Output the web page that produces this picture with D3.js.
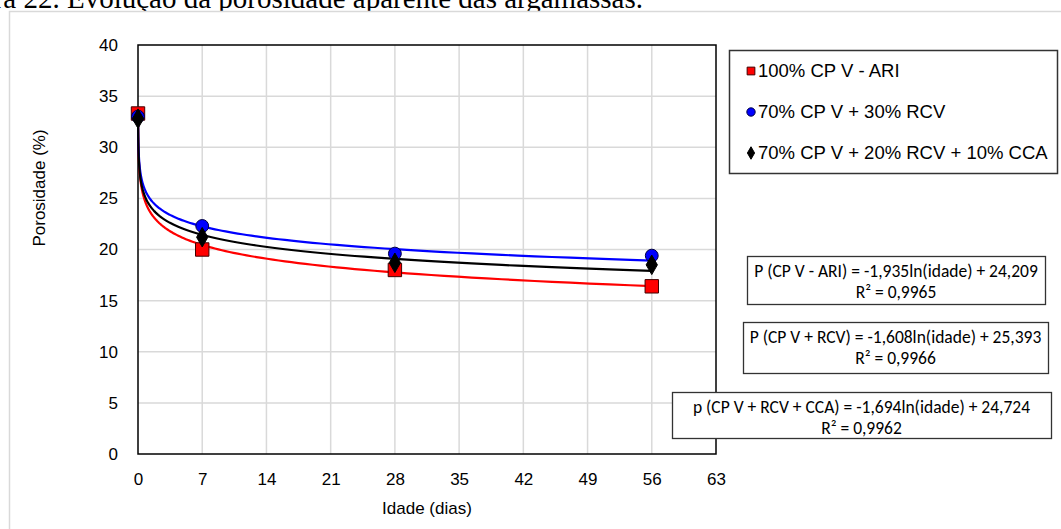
<!DOCTYPE html>
<html>
<head>
<meta charset="utf-8">
<script src="https://cdn.jsdelivr.net/npm/d3@7"></script>
<style>
  body { margin: 0; background: #fff; overflow: hidden; }
  svg { display: block; }
</style>
</head>
<body>
<div id="chart"></div>
<script>
// Data
const ages = [0, 7, 28, 56];
const seriesNames = ["100% CP V - ARI", "70% CP V + 30% RCV", "70% CP V + 20% RCV + 10% CCA"];
const porosityARI = [33.3, 20.0, 18.0, 16.4];
const porosityRCV = [33.0, 22.3, 19.6, 19.4];
const porosityCCA = [32.8, 21.2, 18.7, 18.5];
// logarithmic trendlines shown in the chart: P = a*ln(idade) + b
const trendSlopes = [-1.935, -1.608, -1.694];
const trendIntercepts = [24.209, 25.393, 24.724];
const equationLabels = [
    "P (CP V - ARI) = -1,935ln(idade) + 24,209",
    "P (CP V + RCV) = -1,608ln(idade) + 25,393",
    "p (CP V + RCV + CCA) = -1,694ln(idade) + 24,724"
];
const r2Labels = ["R\u00b2 = 0,9965", "R\u00b2 = 0,9966", "R\u00b2 = 0,9962"];
const xTicks = [0, 7, 14, 21, 28, 35, 42, 49, 56, 63];
const yTicks = [0, 5, 10, 15, 20, 25, 30, 35, 40];

const W = 1061, H = 529;
const margin = { top: 45, right: 345, bottom: 75, left: 138 },
    width = 716 - margin.left,
    height = 454 - margin.top;

const colors = ["#ff0000", "#0000ff", "#000000"];
const values = [porosityARI, porosityRCV, porosityCCA];

const svg = d3.select("#chart")
    .append("svg")
    .attr("width", W)
    .attr("height", H);

// caption above the chart (cut by the page edge)
svg.append("text")
    .attr("x", 643)
    .attr("y", 8)
    .attr("text-anchor", "end")
    .style("font-family", "'Liberation Serif', 'Times New Roman', serif")
    .style("font-size", "29px")
    .text("Figura 22. Evolução da porosidade aparente das argamassas.");

// outer chart frame
svg.append("rect")
    .attr("x", 9.5).attr("y", 11.5)
    .attr("width", 1100).attr("height", 600)
    .attr("fill", "#fff")
    .attr("stroke", "#d9d9d9")
    .attr("stroke-width", 1.5);

const g = svg.append("g")
    .attr("transform", "translate(" + margin.left + "," + margin.top + ")");

const x = d3.scaleLinear().domain([0, 63]).range([0, width]);
const y = d3.scaleLinear().domain([0, 40]).range([height, 0]);

// grid
g.selectAll(".vgrid").data(xTicks.slice(1, -1)).enter().append("line")
    .attr("x1", d => x(d)).attr("x2", d => x(d))
    .attr("y1", 0).attr("y2", height)
    .attr("stroke", "#d9d9d9").attr("stroke-width", 1.5);
g.selectAll(".hgrid").data(yTicks.slice(1, -1)).enter().append("line")
    .attr("x1", 0).attr("x2", width)
    .attr("y1", d => y(d)).attr("y2", d => y(d))
    .attr("stroke", "#d9d9d9").attr("stroke-width", 1.5);

// plot border
g.append("rect")
    .attr("x", 0).attr("y", 0)
    .attr("width", width).attr("height", height)
    .attr("fill", "none")
    .attr("stroke", "#000")
    .attr("stroke-width", 1.5);

// axes
const tickFont = "'Liberation Sans', Arial, sans-serif";
const xAxis = g.append("g")
    .attr("transform", "translate(0," + height + ")")
    .call(d3.axisBottom(x).tickValues(xTicks).tickSize(0).tickPadding(19));
const yAxis = g.append("g")
    .call(d3.axisLeft(y).tickValues(yTicks).tickSize(0).tickPadding(20));
[xAxis, yAxis].forEach(a => {
    a.select(".domain").remove();
    a.selectAll("text")
        .style("font-family", tickFont)
        .style("font-size", "17px")
        .attr("fill", "#000");
});

// axis labels
svg.append("text")
    .attr("x", 427).attr("y", 514)
    .attr("text-anchor", "middle")
    .style("font-family", tickFont)
    .style("font-size", "17px")
    .text("Idade (dias)");
svg.append("text")
    .attr("transform", "translate(45,188) rotate(-90)")
    .attr("text-anchor", "middle")
    .style("font-family", tickFont)
    .style("font-size", "17px")
    .text("Porosidade (%)");

// trendlines
const tMin = 0.01;
const tSamples = d3.range(0, 201).map(i => tMin * Math.pow(56 / tMin, i / 200));
const line = d3.line()
    .x(d => x(d[0]))
    .y(d => y(d[1]));
trendSlopes.forEach((a, i) => {
    const pts = tSamples.map(t => [t, a * Math.log(t) + trendIntercepts[i]]);
    g.append("path")
        .datum(pts)
        .attr("d", line)
        .attr("fill", "none")
        .attr("stroke", colors[i])
        .attr("stroke-width", 2.2);
});

// markers
const symbols = [d3.symbolSquare, d3.symbolCircle, d3.symbolDiamond];
const symSizes = [180, 130, 110];
const symStroke = ["#400000", "#000040", "#000"];
values.forEach((vals, i) => {
    g.selectAll(".pt" + i).data(ages).enter().append("path")
        .attr("d", d3.symbol().type(symbols[i]).size(symSizes[i]))
        .attr("transform", (d, j) => "translate(" + x(d) + "," + y(vals[j]) + ")")
        .attr("fill", colors[i])
        .attr("stroke", symStroke[i])
        .attr("stroke-width", 1);
});

// legend
svg.append("rect")
    .attr("x", 729.5).attr("y", 50.5)
    .attr("width", 328).attr("height", 123)
    .attr("fill", "#fff")
    .attr("stroke", "#333")
    .attr("stroke-width", 1.5);
const legendY = [71, 112, 153];
const legendSizes = [60, 55, 45];
seriesNames.forEach((name, i) => {
    svg.append("path")
        .attr("d", d3.symbol().type(symbols[i]).size(legendSizes[i]))
        .attr("transform", "translate(751," + legendY[i] + ")")
        .attr("fill", colors[i])
        .attr("stroke", symStroke[i])
        .attr("stroke-width", 1);
    svg.append("text")
        .attr("x", 758).attr("y", legendY[i] + 6)
        .style("font-family", tickFont)
        .style("font-size", "18.5px")
        .text(name);
});

// equation boxes
const eqBoxes = [
    { x: 747, y: 256, w: 298, h: 48 },
    { x: 743, y: 322, w: 305, h: 51 },
    { x: 672, y: 392, w: 379, h: 46 }
];
const eqFont = "Carlito, Calibri, Lato, sans-serif";
eqBoxes.forEach((b, i) => {
    svg.append("rect")
        .attr("x", b.x + 0.5).attr("y", b.y + 0.5)
        .attr("width", b.w).attr("height", b.h)
        .attr("fill", "#fff")
        .attr("stroke", "#333")
        .attr("stroke-width", 1.3);
    const cx = b.x + b.w / 2;
    svg.append("text")
        .attr("x", cx).attr("y", b.y + 21)
        .attr("text-anchor", "middle")
        .style("font-family", eqFont)
        .style("font-size", "17.5px")
        .text(equationLabels[i]);
    svg.append("text")
        .attr("x", cx).attr("y", b.y + 42)
        .attr("text-anchor", "middle")
        .style("font-family", eqFont)
        .style("font-size", "17.5px")
        .text(r2Labels[i]);
});
</script>
</body>
</html>
